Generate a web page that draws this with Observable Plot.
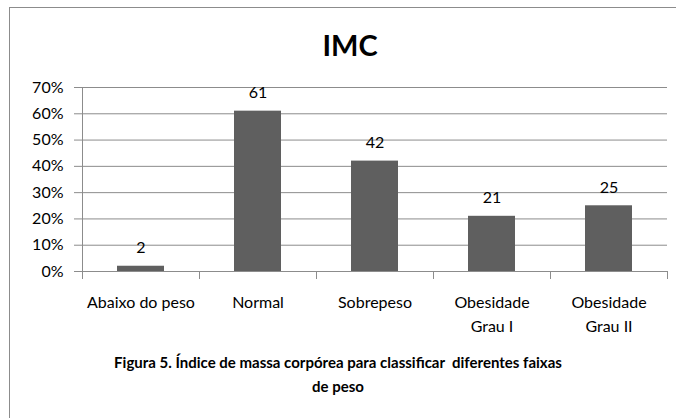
<!DOCTYPE html>
<html><head><meta charset="utf-8">
<script src="https://cdn.jsdelivr.net/npm/d3@7"></script>
<script src="https://cdn.jsdelivr.net/npm/@observablehq/plot@0.6"></script>
<style>
body{margin:0;background:#fff;font-family:Lato, sans-serif;color:#000;}
#wrap{position:relative;width:676px;height:418px;overflow:hidden;background:#fff;}
#border{position:absolute;left:9px;top:7px;width:700px;height:450px;border:1px solid #8c8c8c;pointer-events:none;}
#title{height:50px;padding-top:20px;padding-left:24px;line-height:50px;text-align:center;font-weight:bold;font-size:29px;}
#chart svg{display:block;}
#caption{text-align:center;font-weight:bold;font-size:15px;line-height:24px;}
</style></head><body>
<div id="wrap"><div id="border"></div><div id="title">IMC</div><div id="chart"></div><div id="caption">Figura 5. Índice de massa corpórea para classificar&nbsp; diferentes faixas<br>de peso</div></div>
<script>
const categories = ["Abaixo do peso","Normal","Sobrepeso","Obesidade\nGrau I","Obesidade\nGrau II"];
const values = [2, 61, 42, 21, 25];
const yTicks = [0, 10, 20, 30, 40, 50, 60, 70];

const W = 676, H = 280, mL = 82, mR = 9;
const bw = (W - mL - mR) / categories.length;
const data = categories.map((c, i) => ({c, v: values[i]}));
const gray = "#8c8c8c";

const chart = Plot.plot({
  width: W, height: H,
  marginLeft: mL, marginRight: mR, marginTop: 17, marginBottom: 79,
  style: {fontFamily: "Lato, sans-serif", fontSize: "16px", color: "#000", background: "#fff"},
  x: {domain: categories, padding: 0, label: null, axis: null},
  y: {domain: [0, 70], label: null, axis: null},
  marks: [
    Plot.gridY(yTicks, {stroke: gray, strokeOpacity: 1}),
    Plot.ruleY([0], {stroke: gray}),
    Plot.ruleX([categories[0]], {y1: 0, y2: 70, dx: -bw / 2, stroke: gray}),
    Plot.barY(data, {x: "c", y: "v", fill: "#5f5f5f", insetLeft: 35, insetRight: 35}),
    Plot.text(data, {x: "c", y: "v", text: d => String(d.v), dy: -18, fontSize: 16, fill: "#000"}),
    Plot.axisY(yTicks, {tickSize: 8, tickPadding: 11, tickFormat: d => d + "%", stroke: gray, fill: "#000", fontSize: 16}),
    Plot.axisX(categories, {tickSize: 8, tickFormat: () => "", dx: -bw / 2, stroke: gray}),
    Plot.axisX([categories[categories.length - 1]], {tickSize: 8, tickFormat: () => "", dx: bw / 2, stroke: gray}),
    Plot.axisX(categories, {tickSize: 0, tickPadding: 19, lineHeight: 1.5, fontSize: 16, fill: "#000"})
  ]
});
document.getElementById("chart").appendChild(chart);
</script>
</body></html>
